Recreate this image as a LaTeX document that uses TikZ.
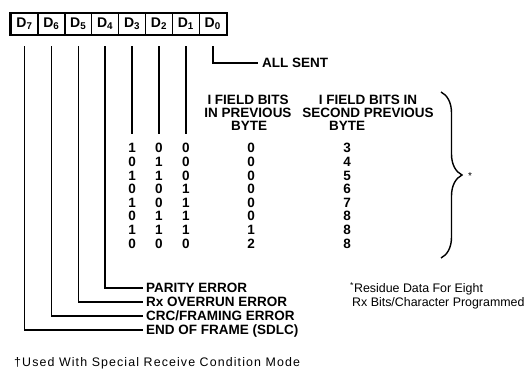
\documentclass[tikz,border=0pt]{standalone}
\usepackage{fontspec}
\setmainfont{Liberation Sans}
\newfontfamily\spacedfont[LetterSpace=9]{Liberation Sans}
\usetikzlibrary{calc,decorations.pathreplacing}

\begin{document}
\begin{tikzpicture}[x=1pt,y=-1pt,
  lead/.style={line width=1.5pt},
  cell/.style={draw,line width=1.4pt,minimum width=26.9pt,minimum height=21pt,
    inner sep=0pt,font=\fontsize{14}{14}\selectfont\bfseries},
  bold/.style={font=\fontsize{13.5}{13.5}\selectfont\bfseries,inner sep=0pt,
    text height=9.7pt,text depth=0pt},
  note/.style={font=\fontsize{12.4}{12.4}\selectfont,inner sep=0pt,
    text height=8.9pt,text depth=0pt,anchor=west},
  lbl/.style={bold,anchor=west}]
\useasboundingbox (0,0) rectangle (526,377);

% register cells D7 ... D0
\foreach \b [count=\k from 0] in {7,6,5,4,3,2,1,0}
  \node[cell] (d\b) at (24.45+26.9*\k,24) {D\textsubscript{\b}};
\draw[line width=1.9pt] (d7.north west) rectangle (d0.south east);

% field headings
\node[bold] (h1a) at (248,100) {I FIELD BITS};
\node[bold] (h1b) at (248,113) {IN PREVIOUS};
\node[bold] (h1c) at (249,126) {BYTE};
\node[bold] (h2a) at (368,100) {I FIELD BITS IN};
\node[bold] (h2b) at (368,113) {SECOND PREVIOUS};
\node[bold] (h2c) at (347,126) {BYTE};

% residue code table
\foreach \a/\b/\c/\p/\s [count=\i] in
  {1/0/0/0/3, 0/1/0/0/4, 1/1/0/0/5, 0/0/1/0/6,
   1/0/1/0/7, 0/1/1/0/8, 1/1/1/1/8, 0/0/0/2/8}{
  \node[bold] (r\i-3) at (d3 |- 0,134.4+13.6*\i) {\a};
  \node[bold] (r\i-2) at (d2 |- 0,134.4+13.6*\i) {\b};
  \node[bold] (r\i-1) at (d1 |- 0,134.4+13.6*\i) {\c};
  \node[bold] (r\i-p) at (251,134.4+13.6*\i) {\p};
  \node[bold] (r\i-s) at (347,134.4+13.6*\i) {\s};
}

% status labels
\node[lbl] (allsent) at (262,63) {ALL SENT};
\node[lbl] (parity) at (146,288) {PARITY ERROR};
\node[lbl] (overrun) at (146,302) {Rx OVERRUN ERROR};
\node[lbl] (crc) at (146,316) {CRC/FRAMING ERROR};
\node[lbl] (eof) at (146,330) {END OF FRAME (SDLC)};

% leads from the bits
\draw[lead] ($(d0.south)+(0,11)$) |- ([xshift=-4pt]allsent.west);
\foreach \b in {3,2,1}
  \draw[lead] ($(d\b.south)+(0,11)$) -- ($(r1-\b.north)+(0,-9)$);
\draw[lead] ($(d4.south)+(0,11)$) |- ([xshift=-3pt]parity.west);
\draw[lead] ($(d5.south)+(0,11)$) |- ([xshift=-3pt]overrun.west);
\draw[lead] ($(d6.south)+(0,11)$) |- ([xshift=-3pt]crc.west);
\draw[lead] ($(d7.south)+(0,11)$) |- ([xshift=-3pt]eof.west);

% brace over the residue rows
\coordinate (bt) at (441,92);
\coordinate (bb) at (441,258);
\draw[line width=1.4pt,decorate,decoration={brace,amplitude=21pt}] (bt) -- (bb);
\node[font=\fontsize{10}{10}\selectfont,inner sep=0pt] (star) at (470,176) {*};

% notes
\node[note] (n1) at (350,288) {\textsuperscript{*}Residue Data For Eight};
\node[note] (n2) at (352,302) {Rx Bits/Character Programmed};
\node[note,font=\fontsize{12.4}{12.4}\spacedfont] (foot) at (14,362)
  {†Used With Special Receive Condition Mode};
\end{tikzpicture}
\end{document}
